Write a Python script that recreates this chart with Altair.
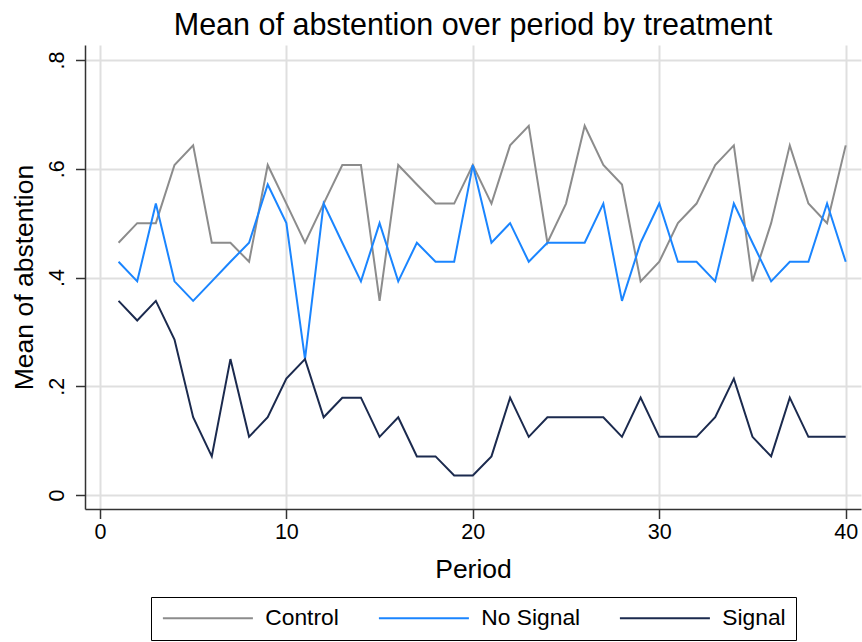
import altair as alt
import pandas as pd

# Mean abstention per period for each treatment group
periods = list(range(1, 41))

control = [0.464, 0.500, 0.500, 0.607, 0.643, 0.464, 0.464, 0.429, 0.607, 0.536,
           0.464, 0.536, 0.607, 0.607, 0.357, 0.607, 0.571, 0.536, 0.536, 0.607,
           0.536, 0.643, 0.679, 0.464, 0.536, 0.679, 0.607, 0.571, 0.393, 0.429,
           0.500, 0.536, 0.607, 0.643, 0.393, 0.500, 0.643, 0.536, 0.500, 0.643]

no_signal = [0.429, 0.393, 0.536, 0.393, 0.357, 0.393, 0.429, 0.464, 0.571, 0.500,
             0.250, 0.536, 0.464, 0.393, 0.500, 0.393, 0.464, 0.429, 0.429, 0.607,
             0.464, 0.500, 0.429, 0.464, 0.464, 0.464, 0.536, 0.357, 0.464, 0.536,
             0.429, 0.429, 0.393, 0.536, 0.464, 0.393, 0.429, 0.429, 0.536, 0.429]

signal = [0.357, 0.321, 0.357, 0.286, 0.143, 0.071, 0.250, 0.107, 0.143, 0.214,
          0.250, 0.143, 0.179, 0.179, 0.107, 0.143, 0.071, 0.071, 0.036, 0.036,
          0.071, 0.179, 0.107, 0.143, 0.143, 0.143, 0.143, 0.107, 0.179, 0.107,
          0.107, 0.107, 0.143, 0.214, 0.107, 0.071, 0.179, 0.107, 0.107, 0.107]

treatments = ["Control", "No Signal", "Signal"]
colors = ["#8c8c8c", "#1a85ff", "#1b2a4e"]

x_ticks = [0, 10, 20, 30, 40]
y_ticks = [0, 0.2, 0.4, 0.6, 0.8]

df = pd.concat([
    pd.DataFrame({"period": periods, "abstention": vals, "treatment": name})
    for name, vals in zip(treatments, [control, no_signal, signal])
])

FONT = "Liberation Sans"

chart = alt.Chart(df).mark_line(strokeWidth=2).encode(
    x=alt.X(
        "period:Q",
        scale=alt.Scale(domain=[-0.8, 40.82], nice=False, zero=False),
        axis=alt.Axis(
            values=x_ticks, title="Period", format="d",
            titleX=388, titleY=68, titleAlign="center", titleBaseline="alphabetic",
            titleFontSize=26.5, titleFontWeight="normal",
        ),
    ),
    y=alt.Y(
        "abstention:Q",
        scale=alt.Scale(domain=[-0.0257, 0.8276], nice=False, zero=False),
        axis=alt.Axis(
            values=y_ticks, title="Mean of abstention",
            labelExpr="datum.value == 0 ? '0' : substring(format(datum.value, '.1f'), 1)",
            labelAngle=270, labelAlign="center", labelBaseline="alphabetic",
            labelPadding=12.5,
            titleX=-53, titleY=232, titleAngle=270, titleAlign="center",
            titleBaseline="alphabetic", titleFontSize=26.5, titleFontWeight="normal",
        ),
    ),
    color=alt.Color(
        "treatment:N",
        scale=alt.Scale(domain=treatments, range=colors),
        legend=alt.Legend(
            title=None, orient="none", legendX=66, legendY=552,
            direction="horizontal", columns=3,
            symbolType="M-4.5,0H4.5", symbolSize=400, symbolStrokeWidth=2,
            symbolOffset=36, labelOffset=46, columnPadding=35,
            strokeColor="black", padding=9.5,
            labelFont=FONT, labelFontSize=22.8, labelColor="black",
        ),
    ),
).properties(
    width=776,
    height=464,
    background="white",
    title=alt.TitleParams(
        "Mean of abstention over period by treatment",
        font=FONT, fontSize=30.5, fontWeight="normal", color="black",
        anchor="middle", baseline="alphabetic", offset=-20,
    ),
    autosize=alt.AutoSizeParams(type="none"),
    padding={"left": 85, "top": 45, "right": 1, "bottom": 133},
).configure_view(
    stroke=None,
).configure_axis(
    labelFont=FONT, labelFontSize=21.5, labelColor="black",
    titleFont=FONT, titleColor="black",
    domainColor="#333333", domainWidth=1.5,
    tickColor="#333333", tickWidth=1.5, tickSize=9.5,
    gridColor="#dfdfdf", gridWidth=2, grid=True,
    labelPadding=3,
)

chart.save("out.html", embed_options={"renderer": "svg", "actions": False})
